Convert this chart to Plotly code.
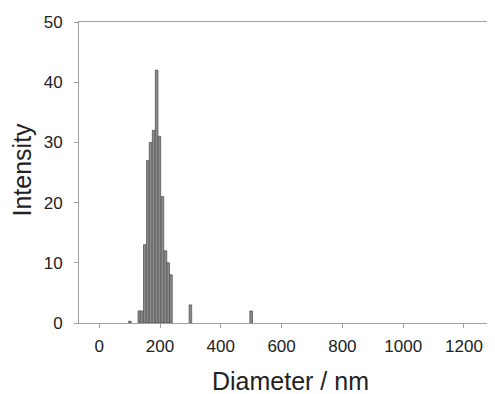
import plotly.graph_objects as go

diameters = [101, 132, 139, 150, 160, 169, 179, 189, 198, 208, 218, 227, 236, 300, 500]
intensity = [0.3, 2, 2, 13, 27, 30, 32, 42, 31, 21, 12, 10, 8, 3, 2]

x_ticks = [0, 200, 400, 600, 800, 1000, 1200]
y_ticks = [0, 10, 20, 30, 40, 50]

FONT = "Liberation Sans, Arial, sans-serif"

fig = go.Figure(go.Bar(
    x=diameters, y=intensity, width=8.5,
    marker=dict(color="#8c8c8c", line=dict(color="#555555", width=0.8)),
))

axis_font = dict(family=FONT, size=17, color="#222222")
# page body has an 8px default margin; figure sized to fit the 495x394 window
fig.update_layout(
    width=487, height=386,
    margin=dict(l=71, r=2, t=14, b=71),
    paper_bgcolor="white", plot_bgcolor="white",
    showlegend=False,
    xaxis=dict(
        range=[-66.5, 1295.5], tickvals=x_ticks, ticktext=[str(v) for v in x_ticks],
        showgrid=False, zeroline=False, showline=True, linecolor="#a0a0a0", linewidth=1,
        mirror=True, ticks="outside", ticklen=4, tickcolor="#a0a0a0",
        tickfont=axis_font, automargin=False, ticklabelstandoff=4,
    ),
    yaxis=dict(
        range=[0, 50], tickvals=y_ticks,
        showgrid=False, zeroline=False, showline=True, linecolor="#a0a0a0", linewidth=1,
        ticks="outside", ticklen=4, tickcolor="#a0a0a0",
        tickfont=axis_font, automargin=False, ticklabelstandoff=8,
    ),
    annotations=[
        dict(text="Diameter / nm", xref="paper", yref="paper", x=0.51, y=0,
             yshift=-58, xanchor="center", yanchor="middle", showarrow=False,
             font=dict(family=FONT, size=25, color="#222222")),
        dict(text="Intensity", xref="paper", yref="paper", x=0, y=0.51,
             xshift=-57, xanchor="center", yanchor="middle", showarrow=False,
             textangle=-90, font=dict(family=FONT, size=25, color="#222222")),
    ],
)

fig.write_html("out.html")
